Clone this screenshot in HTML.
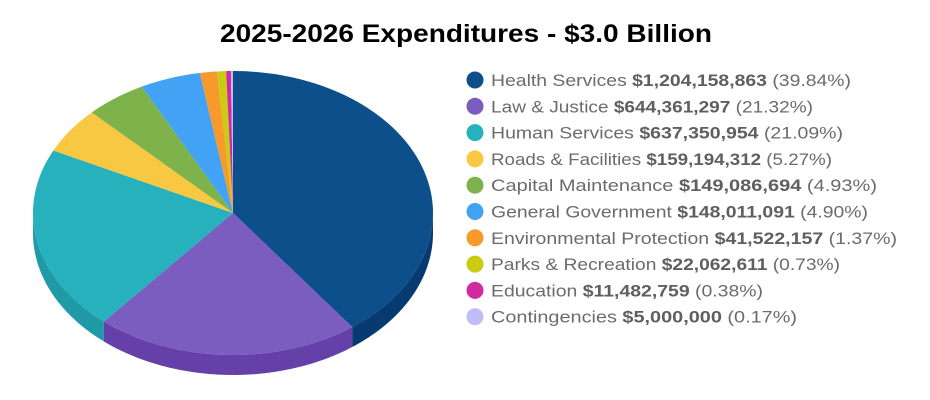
<!DOCTYPE html>
<html><head><meta charset="utf-8"><style>
html,body{margin:0;padding:0;background:#fff;}
svg{display:block;}
</style></head><body>
<svg id="chart" width="930" height="400" viewBox="0 0 930 400">
<rect width="930" height="400" fill="#fff"/>
<text x="466" y="42" text-anchor="middle" font-family="Liberation Sans, sans-serif" font-weight="bold" font-size="25" fill="#000" textLength="492" lengthAdjust="spacingAndGlyphs">2025-2026 Expenditures - $3.0 Billion</text>
<g id="sides"></g>
<g id="slices"></g>
<g id="legend"></g>
</svg>
<script>
const categories = ["Health Services","Law & Justice","Human Services","Roads & Facilities","Capital Maintenance","General Government","Environmental Protection","Parks & Recreation","Education","Contingencies"];
const amounts = [1204158863,644361297,637350954,159194312,149086694,148011091,41522157,22062611,11482759,5000000];
const amountLabels = ["$1,204,158,863","$644,361,297","$637,350,954","$159,194,312","$149,086,694","$148,011,091","$41,522,157","$22,062,611","$11,482,759","$5,000,000"];
const percentLabels = ["(39.84%)","(21.32%)","(21.09%)","(5.27%)","(4.93%)","(4.90%)","(1.37%)","(0.73%)","(0.38%)","(0.17%)"];
const colors = ["#0d4f8b","#7b5cbf","#27b1bd","#f9c843","#7eb24a","#42a3f5","#f79a2b","#c9cc12","#d1299f","#c0bcf7"];
const sideColors = ["#083a72","#6440a8","#1f9aa6","#d9ac30","#689a3a","#338ad8","#d87f1c","#aaad0c","#b01e86","#a6a2e0"];
const legendWidths = [360,322,352,341,386,377,406,349,272,306];

const NS="http://www.w3.org/2000/svg";
const cx=233, cy=213, rx=200, ry=142, depth=20;
const total = amounts.reduce((a,b)=>a+b,0);
function pt(a,dy){ return [cx+rx*Math.sin(a), cy-ry*Math.cos(a)+(dy||0)]; }
function arcPath(a0,a1,dy,steps){ let s=[]; for(let i=0;i<=steps;i++){const a=a0+(a1-a0)*i/steps; s.push(pt(a,dy));} return s; }
const sides=document.getElementById('sides'), slices=document.getElementById('slices'), legend=document.getElementById('legend');
let start=0;
amounts.forEach((v,i)=>{
  const ang=v/total*2*Math.PI, a0=start, a1=start+ang;
  // side face for front half (angles between PI/2 and 3PI/2)
  const s0=Math.max(a0,Math.PI/2), s1=Math.min(a1,3*Math.PI/2);
  if(s1>s0){
    const top=arcPath(s0,s1,0,60), bot=arcPath(s1,s0,depth,60);
    const p=document.createElementNS(NS,'path');
    p.setAttribute('d','M'+top.concat(bot).map(q=>q[0].toFixed(2)+','+q[1].toFixed(2)).join('L')+'Z');
    p.setAttribute('fill',sideColors[i]);
    
    
    sides.appendChild(p);
  }
  const steps=Math.max(4,Math.ceil(ang*60));
  const arc=arcPath(a0,a1,0,steps);
  const p=document.createElementNS(NS,'path');
  p.setAttribute('d','M'+cx+','+cy+'L'+arc.map(q=>q[0].toFixed(2)+','+q[1].toFixed(2)).join('L')+'Z');
  p.setAttribute('fill',colors[i]);
  
  
  slices.appendChild(p);
  start=a1;

  const y=80+i*26.3;
  const c=document.createElementNS(NS,'circle');
  c.setAttribute('cx',475); c.setAttribute('cy',y); c.setAttribute('r',8.5); c.setAttribute('fill',colors[i]);
  
  
  legend.appendChild(c);
  const t=document.createElementNS(NS,'text');
  t.setAttribute('x',491); t.setAttribute('y',y+6);
  t.setAttribute('font-family','Liberation Sans, sans-serif'); t.setAttribute('font-size','17');
  t.setAttribute('fill','#6b6b6b');
  t.setAttribute('textLength',legendWidths[i]); t.setAttribute('lengthAdjust','spacingAndGlyphs');
  
  
  const t1=document.createElementNS(NS,'tspan'); t1.textContent=categories[i]+' ';
  const t2=document.createElementNS(NS,'tspan'); t2.setAttribute('font-weight','bold'); t2.setAttribute('fill','#5f5f5f'); t2.textContent=amountLabels[i];
  const t3=document.createElementNS(NS,'tspan'); t3.textContent=' '+percentLabels[i];
  t.appendChild(t1); t.appendChild(t2); t.appendChild(t3);
  legend.appendChild(t);
});
</script>
</body></html>
